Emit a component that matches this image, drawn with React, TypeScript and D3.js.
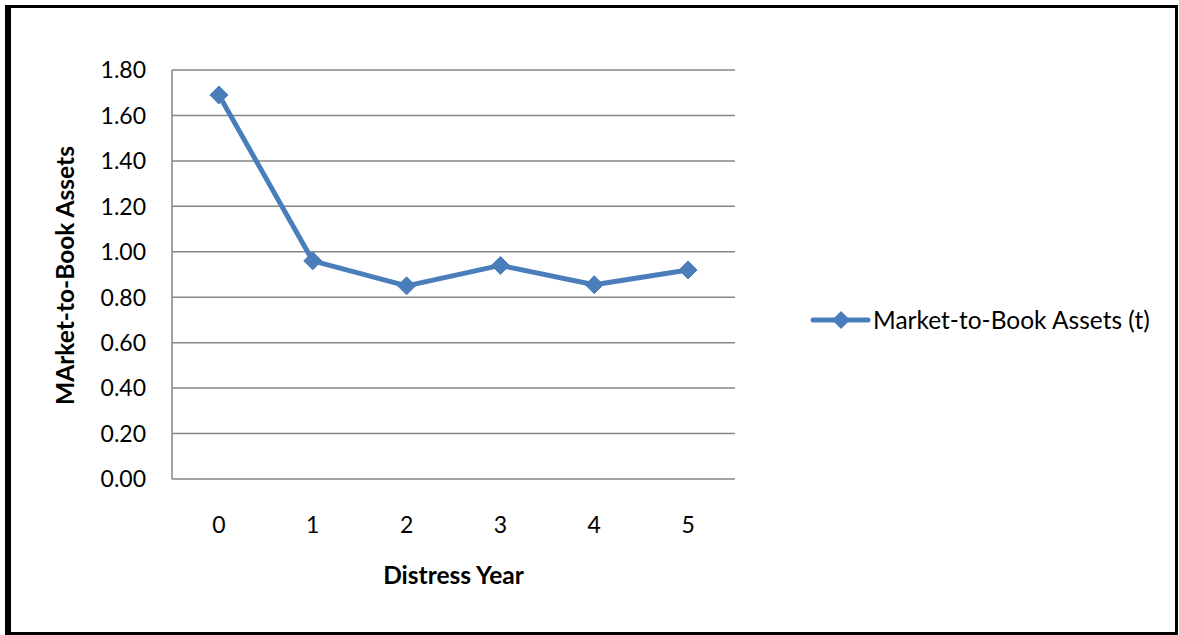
import React from "react";
import * as d3 from "d3";

const categories = ["0", "1", "2", "3", "4", "5"];
const values = [1.69, 0.96, 0.85, 0.94, 0.855, 0.92];
const yTicks = [0, 0.2, 0.4, 0.6, 0.8, 1.0, 1.2, 1.4, 1.6, 1.8];
const seriesName = "Market-to-Book Assets (t)";
const xTitle = "Distress Year";
const yTitle = "MArket-to-Book Assets";

const W = 1179;
const H = 635;
const plot = { left: 172, right: 735, top: 70, bottom: 479 };
const FONT = "Lato, 'Open Sans', sans-serif";
const BLUE = "#4A7EBB";
const GRID = "#868686";

export default function App() {
  const x = d3.scaleBand<string>().domain(categories).range([plot.left, plot.right]);
  const y = d3.scaleLinear().domain([0, 1.8]).range([plot.bottom, plot.top]);
  const cx = (c: string) => (x(c) as number) + x.bandwidth() / 2;
  const line = d3
    .line<number>()
    .x((_, i) => cx(categories[i]))
    .y((d) => y(d));
  const diamond = (px: number, py: number, r: number) =>
    `M${px},${py - r}L${px + r},${py}L${px},${py + r}L${px - r},${py}Z`;

  const legendY = 320;
  return (
    <svg
      width={W}
      height={H}
      style={{ position: "absolute", left: 0, top: 0, background: "#fff" }}
      fontFamily={FONT}
    >
      <rect x={0} y={0} width={W} height={H} fill="#fff" />
      <rect x={6.5} y={6.5} width={1170} height={627} fill="none" stroke="#000" strokeWidth={3} />
      <rect x={5} y={5} width={6} height={630} fill="#000" />
      {yTicks.map((t) => (
        <line key={"g" + t} x1={plot.left} x2={plot.right} y1={y(t)} y2={y(t)} stroke={GRID} strokeWidth={1.5} />
      ))}
      <line x1={plot.left} x2={plot.left} y1={plot.top} y2={plot.bottom} stroke={GRID} strokeWidth={1.5} />
      {yTicks.map((t) => (
        <text key={"t" + t} x={146} y={y(t)} dy="0.36em" textAnchor="end" fontSize={23} fill="#000">
          {t.toFixed(2)}
        </text>
      ))}
      {categories.map((c) => (
        <text key={"c" + c} x={cx(c)} y={525} dy="0.36em" textAnchor="middle" fontSize={23} fill="#000">
          {c}
        </text>
      ))}
      <text x={(plot.left + plot.right) / 2} y={575} dy="0.36em" textAnchor="middle" fontSize={24.5} fontWeight="bold" fill="#000">
        {xTitle}
      </text>
      <text
        transform={`translate(65,${(plot.top + plot.bottom) / 2 + 1}) rotate(-90)`}
        dy="0.36em"
        textAnchor="middle"
        fontSize={24.5}
        fontWeight="bold"
        fill="#000"
      >
        {yTitle}
      </text>
      <path d={line(values) || ""} fill="none" stroke={BLUE} strokeWidth={5} strokeLinejoin="round" />
      {values.map((v, i) => (
        <path key={"m" + i} d={diamond(cx(categories[i]), y(v), 9)} fill={BLUE} stroke={BLUE} strokeWidth={1} />
      ))}
      <line x1={813} x2={868} y1={legendY} y2={legendY} stroke={BLUE} strokeWidth={5} strokeLinecap="round" />
      <path d={diamond(841, legendY, 9)} fill={BLUE} />
      <text x={873} y={legendY} dy="0.36em" fontSize={24.5} fill="#000">
        {seriesName}
      </text>
    </svg>
  );
}
